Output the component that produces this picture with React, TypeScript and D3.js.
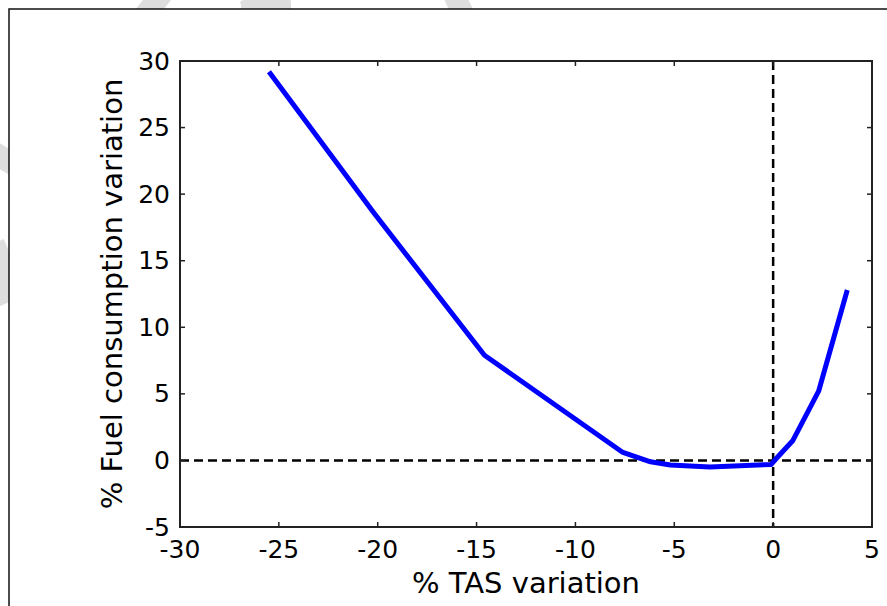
import { useEffect } from 'react';
import * as d3 from 'd3';

// % TAS variation vs % fuel consumption variation
const tasVariation = [-25.5, -20.2, -14.6, -7.6, -6.2, -5.2, -3.2, -0.1, 0.1, 1.0, 2.3, 3.75];
const fuelVariation = [29.2, 18.6, 7.9, 0.6, -0.1, -0.35, -0.5, -0.3, 0.05, 1.5, 5.2, 12.8];

const xTicks = [-30, -25, -20, -15, -10, -5, 0, 5];
const yTicks = [-5, 0, 5, 10, 15, 20, 25, 30];

const xLabel = '% TAS variation';
const yLabel = '% Fuel consumption variation';

const W = 887;
const H = 606;
const FONT = 'DejaVu Sans, sans-serif';

export default function App() {
  useEffect(() => {
    document.body.style.margin = '0';
  }, []);

  const margin = { top: 61, right: 15, bottom: 79, left: 180 };
  const x = d3.scaleLinear().domain([-30, 5]).range([margin.left, W - margin.right]);
  const y = d3.scaleLinear().domain([-5, 30]).range([H - margin.bottom, margin.top]);

  const pts = tasVariation.map((t, i) => [t, fuelVariation[i]] as [number, number]);
  const line = d3.line<[number, number]>().x(d => x(d[0])).y(d => y(d[1]));

  const [x0, x1] = x.range();
  const [y0, y1] = y.range(); // y0 bottom, y1 top
  const tickLen = 5;

  return (
    <svg width={W} height={H} style={{ display: 'block', background: '#fff' }}>
      {/* faint watermark, only visible outside the page frame */}
      <g stroke="#dedede" strokeWidth={22} fill="none">
        <path d="M165,-10 L125,40" />
        <path d="M262,-10 Q270,5 262,30" strokeWidth={50} />
        <path d="M452,-10 L468,25" />
        <path d="M-10,150 L14,165" />
        <path d="M-10,245 L14,300" strokeWidth={30} />
      </g>

      {/* outer frame (page) */}
      <rect x={9} y={9} width={W + 20} height={H + 20} fill="#fff" stroke="#111" strokeWidth={1.5} />

      {/* reference dashed lines */}
      <line x1={x0} x2={x1} y1={y(0)} y2={y(0)} stroke="#000" strokeWidth={2.5} strokeDasharray="9,5" />
      <line x1={x(0)} x2={x(0)} y1={y1} y2={y0} stroke="#000" strokeWidth={2.5} strokeDasharray="9,5" />

      {/* data curve */}
      <path d={line(pts) ?? ''} fill="none" stroke="#0000ff" strokeWidth={5} strokeLinejoin="round" />

      {/* axes box */}
      <rect x={x0} y={y1} width={x1 - x0} height={y0 - y1} fill="none" stroke="#222" strokeWidth={2} />

      {/* inward ticks on all four sides */}
      <g stroke="#222" strokeWidth={1.5}>
        {xTicks.map(t => (
          <g key={`xt${t}`}>
            <line x1={x(t)} x2={x(t)} y1={y0} y2={y0 - tickLen} />
            <line x1={x(t)} x2={x(t)} y1={y1} y2={y1 + tickLen} />
          </g>
        ))}
        {yTicks.map(t => (
          <g key={`yt${t}`}>
            <line x1={x0} x2={x0 + tickLen} y1={y(t)} y2={y(t)} />
            <line x1={x1} x2={x1 - tickLen} y1={y(t)} y2={y(t)} />
          </g>
        ))}
      </g>

      {/* tick labels */}
      <g fontFamily={FONT} fontSize={25} fill="#000">
        {xTicks.map(t => (
          <text key={`xl${t}`} x={x(t)} y={558} textAnchor="middle">{t}</text>
        ))}
        {yTicks.map(t => (
          <text key={`yl${t}`} x={170} y={y(t)} textAnchor="end" dominantBaseline="central">{t}</text>
        ))}
      </g>

      {/* axis labels */}
      <text x={(x0 + x1) / 2} y={593} textAnchor="middle" fontFamily={FONT} fontSize={29} fill="#000">
        {xLabel}
      </text>
      <text
        transform={`translate(122,${(y0 + y1) / 2}) rotate(-90)`}
        textAnchor="middle"
        fontFamily={FONT}
        fontSize={29}
        fill="#000"
      >
        {yLabel}
      </text>
    </svg>
  );
}
